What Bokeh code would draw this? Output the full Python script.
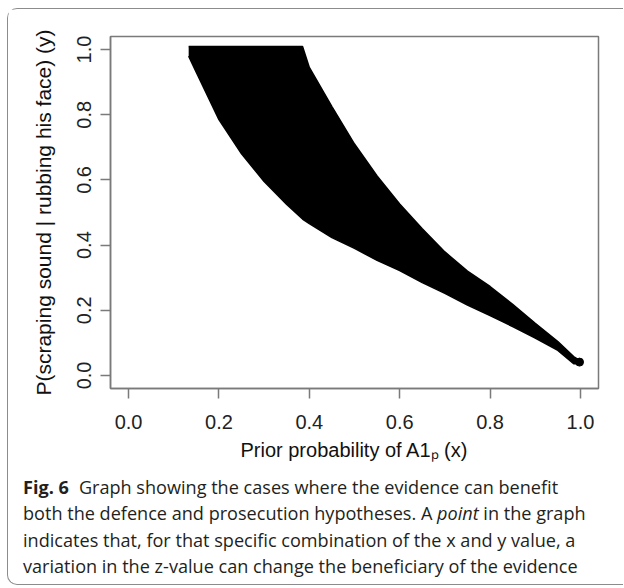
from bokeh.plotting import figure
from bokeh.layouts import column
from bokeh.models import Range1d, FixedTicker, PrintfTickFormatter, Div
from bokeh.embed import file_html
from bokeh.resources import INLINE

# ---- data (outer edge of the region of points) ----
prior_x = [0.133, 0.15, 0.2, 0.25, 0.3, 0.35, 0.385, 0.4, 0.45, 0.5, 0.55,
           0.6, 0.65, 0.7, 0.75, 0.8, 0.85, 0.9, 0.95, 0.985, 0.998]
y_lower = [0.98, 0.93, 0.785, 0.68, 0.595, 0.525, 0.48, 0.466, 0.423, 0.39, 0.353,
           0.322, 0.285, 0.252, 0.216, 0.184, 0.150, 0.115, 0.077, 0.036, 0.036]
y_upper = [1.009, 1.009, 1.009, 1.009, 1.009, 1.009, 1.009, 0.945, 0.825, 0.71, 0.612,
           0.526, 0.45, 0.379, 0.32, 0.273, 0.218, 0.16, 0.104, 0.058, 0.046]

x_ticks = [0.0, 0.2, 0.4, 0.6, 0.8, 1.0]
y_ticks = [0.0, 0.2, 0.4, 0.6, 0.8, 1.0]

x_label = "Prior probability of A1\u209a (x)"
y_label = "P(scraping sound | rubbing his face) (y)"

caption_lines = [
    "<b>Fig.\u00a06</b><span style=\"display:inline-block;width:10px\"></span>"
    "Graph showing the cases where the evidence can benefit",
    "both the defence and prosecution hypotheses. A <i>point</i> in the graph",
    "indicates that, for that specific combination of the x and y value, a",
    "variation in the z-value can change the beneficiary of the evidence",
]

# ---- geometry ----
W, H = 615, 462
CAP_H = 115
BL, BT = 102, 27
FW, FH = 488, 352
BB = H - BT - FH
XR = (-0.04, 1.04)
YR = (-0.04, 1.04)

p = figure(width=W, height=H, x_range=Range1d(*XR), y_range=Range1d(*YR),
           min_border_left=BL, min_border_right=W - BL - FW, min_border_top=BT,
           min_border_bottom=BB, output_backend="svg", toolbar_location=None)

p.varea(x=prior_x, y1=y_lower, y2=y_upper, fill_color="black")
p.line(x=prior_x, y=y_lower, line_color="black", line_width=1.5)
p.line(x=prior_x, y=y_upper, line_color="black", line_width=1.5)
p.scatter(x=prior_x[-1:], y=[(a + b) / 2 for a, b in zip(y_lower[-1:], y_upper[-1:])],
          size=8, color="black")

p.xgrid.visible = False
p.ygrid.visible = False
p.outline_line_color = "#7a7a7a"
p.outline_line_width = 1.5
p.background_fill_color = "white"
p.border_fill_color = "white"

for ax, ticks in ((p.xaxis, x_ticks), (p.yaxis, y_ticks)):
    ax.ticker = FixedTicker(ticks=ticks)
    ax.formatter = PrintfTickFormatter(format="%.1f")
    ax.axis_line_color = "#7a7a7a"
    ax.axis_line_width = 1.5
    ax.major_tick_line_color = "#7a7a7a"
    ax.major_tick_line_width = 1.5
    ax.minor_tick_line_color = None
    ax.major_tick_in = 0
    ax.major_tick_out = 10
    ax.major_label_text_font = "Liberation Sans"
    ax.major_label_text_font_size = "20px"
    ax.major_label_text_color = "#222222"
    ax.axis_label_text_font = "Liberation Sans"
    ax.axis_label_text_font_style = "normal"
    ax.axis_label_text_color = "#111111"

p.xaxis.axis_label = x_label
p.yaxis.axis_label = y_label
p.xaxis.axis_label_text_font_size = "20px"
p.yaxis.axis_label_text_font_size = "21px"
p.yaxis.major_label_orientation = "vertical"
p.xaxis.major_label_standoff = 16
p.yaxis.major_label_standoff = 9
p.xaxis.axis_label_standoff = 7
p.yaxis.axis_label_standoff = 20

line_style = "white-space:nowrap;overflow:visible;height:26.4px;"
caption_body = "".join("<div style=\"%s\">%s</div>" % (line_style, ln) for ln in caption_lines)
caption = Div(
    text=("<div style=\"font-family:'Open Sans';font-size:18.1px;line-height:26.4px;"
          "color:#231f20;margin:0;padding:3px 0 0 15px;width:640px;height:100px;"
          "overflow:visible;\">" + caption_body + "</div>"),
    width=W, height=CAP_H, margin=(0, 0, 0, 0),
    styles={"overflow": "visible", "height": "%dpx" % CAP_H})

border = "1px solid #8c8c8c"
layout = column(p, caption, margin=(0, 0, 0, 0), height=H + CAP_H, styles={
    "margin-left": "7px", "margin-top": "8px",
    "border-left": border, "border-top": border, "border-bottom": border,
    "border-top-left-radius": "10px", "border-bottom-left-radius": "10px",
    "background-color": "white",
})

open("out.html", "w").write(file_html(layout, INLINE))
